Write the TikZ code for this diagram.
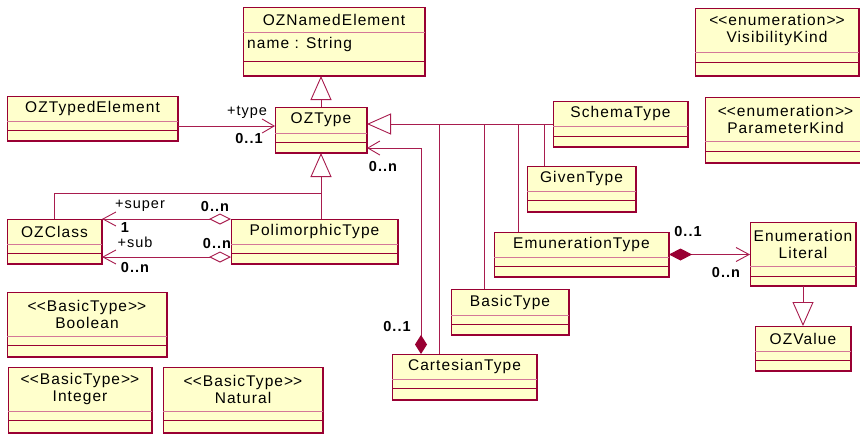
\documentclass[tikz,border=0pt]{standalone}
\usepackage{fontspec}
\setmainfont{Liberation Sans}[LetterSpace=7]
\usepackage{tikz}
\usetikzlibrary{arrows.meta,calc,positioning}
\definecolor{umlred}{RGB}{153,0,51}
\definecolor{umlline}{RGB}{168,28,78}
\definecolor{umlpink}{RGB}{212,120,152}
\definecolor{umlfill}{RGB}{255,255,204}
\tikzstyle{classbox}=[draw=umlred, fill=umlfill, line width=0.9pt, inner sep=0pt, outer sep=0pt]
\tikzstyle{link}=[draw=umlline, line width=0.9pt]

% class box: name, left, top, right, bottom, first rule, second rule, text
\newcommand{\ozclass}[8]{%
  \node[classbox, anchor=north west, minimum width={(#4-#2)*1pt}, minimum height={(#5-#3)*1pt}] (#1) at (#2,#3) {};
  \draw[umlred, line width=1.6pt] (#4,#3) -- (#4,#5) -- (#2,#5);
  \draw[umlpink, line width=0.9pt] (#2,#6) -- (#4,#6);
  \draw[umlred, line width=0.9pt] (#2,#7) -- (#4,#7);
  \node[classname] at ({(#2+#4)/2},{(#3+#6)/2}) {#8};
}
% stereotype in guillemet-free form
\newcommand{\stereo}[1]{<\kern0pt<#1>\kern0pt>}

\begin{document}
\begin{tikzpicture}[x=1pt,y=-1pt,
  classname/.style={font=\fontsize{15.5}{17}\selectfont, align=center, inner sep=0pt, text=black},
  role/.style={font=\fontsize{14.5}{16}\selectfont, inner sep=0pt},
  mult/.style={font=\bfseries\fontsize{14.5}{16}\selectfont, inner sep=0pt},
  gen/.style={-{Triangle[open,length=24pt,width=21pt]}},
  nav/.style={-{Straight Barb[length=12pt,width=14pt]}}]
\useasboundingbox (0,0) rectangle (860,434);
\fill[white] (0,0) rectangle (860,434);
\clip (0,0) rectangle (860,434);

% classes
\ozclass{OZNamedElement}{243}{7}{425}{76}{32}{61}{OZNamedElement}
\node[classname, anchor=west] (attr) at (247,44) {name : String};
\ozclass{VisibilityKind}{695}{8}{859}{76}{52}{62}{\stereo{enumeration}\\VisibilityKind}
\ozclass{OZTypedElement}{7}{96}{178}{141}{121}{130}{OZTypedElement}
\ozclass{OZType}{275}{107}{367}{153}{133}{142}{OZType}
\ozclass{SchemaType}{553}{101}{688}{147}{126}{136}{SchemaType}
\ozclass{ParameterKind}{705}{97}{866}{163}{141}{151}{\stereo{enumeration}\\ParameterKind}
\ozclass{GivenType}{527}{166}{636}{212}{191}{200}{GivenType}
\ozclass{OZClass}{7}{219}{102}{264}{244}{253}{OZClass}
\ozclass{PolimorphicType}{231}{219}{398}{264}{244}{253}{PolimorphicType}
\ozclass{EmunerationType}{494}{232}{669}{277}{257}{266}{EmunerationType}
\ozclass{EnumerationLiteral}{750}{222}{856}{286}{266}{276}{Enumeration\\Literal}
\ozclass{BasicType}{451}{289}{569}{335}{315}{324}{BasicType}
\ozclass{Boolean}{7}{292}{167}{357}{336}{345}{\stereo{BasicType}\\Boolean}
\ozclass{OZValue}{755}{326}{851}{371}{351}{360}{OZValue}
\ozclass{CartesianType}{392}{354}{537}{400}{379}{388}{CartesianType}
\ozclass{Integer}{8}{367}{152}{433}{411}{420}{\stereo{BasicType}\\Integer}
\ozclass{Natural}{163}{367}{323}{433}{411}{420}{\stereo{BasicType}\\Natural}

% generalizations
\draw[link,gen] (OZType.north) -- (OZType.north |- OZNamedElement.south);
\draw[link,gen] (SchemaType.west) -- (OZType.east |- SchemaType.west);
\coordinate (cart) at (439,0);
\coordinate (basic) at (484,0);
\coordinate (enum) at (518,0);
\coordinate (given) at (544,0);
\draw[link] (cart |- SchemaType.west) -- (cart |- CartesianType.north);
\draw[link] (basic |- SchemaType.west) -- (basic |- BasicType.north);
\draw[link] (enum |- SchemaType.west) -- (enum |- EmunerationType.north);
\draw[link] (given |- SchemaType.west) -- (given |- GivenType.north);
\coordinate (tj) at (321,193);
\draw[link,gen] (tj) -- (OZType.south);
\draw[link] (PolimorphicType.north -| tj) -- (tj) -| (OZClass.north);
\draw[link,gen] (EnumerationLiteral.south) -- (OZValue.north);

% associations
\draw[link,nav] ([yshift=4pt]OZType.west -| OZTypedElement.east) -- ([yshift=4pt]OZType.west);
\draw[link,{Diamond[length=19pt,width=12pt,umlred]}-{Straight Barb[length=12pt,width=14pt]}]
  ([xshift=-43.5pt]CartesianType.north) |- ([yshift=-18pt]OZType.east);
\draw[link,{Diamond[open,length=22pt,width=11pt]}-{Straight Barb[length=13pt,width=14pt]}]
  (PolimorphicType.north west) -- (OZClass.north east);
\draw[link,{Diamond[open,length=22pt,width=11pt]}-{Straight Barb[length=13pt,width=14pt]}]
  ([yshift=7pt]PolimorphicType.south west) -- ([yshift=7pt]OZClass.south east);
\draw[link,{Diamond[length=23pt,width=12pt,umlred]}-{Straight Barb[length=13pt,width=14pt]}]
  (EmunerationType.east) -- (EmunerationType.east -| EnumerationLiteral.west);

% role names and multiplicities
\node[role] (rtype) at (247,112) {+type};
\node[mult] (mtype) at (249,139) {0..1};
\node[mult] (mcart) at (383,167) {0..n};
\node[role] (rsuper) at (140,206) {+super};
\node[mult] (msuper) at (215,207) {0..n};
\node[mult] (mone) at (125,228) {1};
\node[role] (rsub) at (135,242) {+sub};
\node[mult] (msub) at (217,244) {0..n};
\node[mult] (msubn) at (135,268) {0..n};
\node[mult] (mcartone) at (397,327) {0..1};
\node[mult] (menum) at (688,232) {0..1};
\node[mult] (mlit) at (726,273) {0..n};
\end{tikzpicture}
\end{document}
